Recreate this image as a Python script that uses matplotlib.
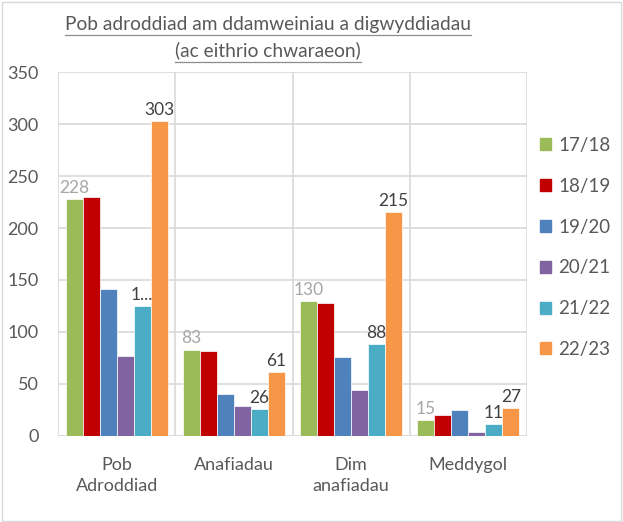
import numpy as np
import matplotlib
matplotlib.use("Agg")
import matplotlib.pyplot as plt
from matplotlib.patches import Rectangle
from matplotlib.lines import Line2D

plt.rcParams["font.family"] = ["Lato", "DejaVu Sans"]

categories = ["Pob\nAdroddiad", "Anafiadau", "Dim\nanafiadau", "Meddygol"]
years = ["17/18", "18/19", "19/20", "20/21", "21/22", "22/23"]
v1718 = [228, 83, 130, 15]
v1819 = [230, 82, 128, 20]
v1920 = [141, 40, 76, 25]
v2021 = [77, 29, 44, 4]
v2122 = [125, 26, 88, 11]
v2223 = [303, 61, 215, 27]
series = [v1718, v1819, v1920, v2021, v2122, v2223]
colors = ["#9BBB59", "#C00000", "#4F81BD", "#8064A2", "#4BACC6", "#F79646"]

# which series carry data labels, and their colour
label_color = {0: "#A6A6A6", 4: "#404040", 5: "#404040"}
label_text = {(4, 0): "1..."}

GRID = "#D9D9D9"
TXT = "#595959"

fig = plt.figure(figsize=(6.23, 5.22), dpi=100)
fig.patches.append(Rectangle((0.004, 0.002), 0.992, 0.994, transform=fig.transFigure,
                             fill=False, edgecolor=GRID, lw=1))
ax = fig.add_axes([0.0931, 0.1653, 0.7529, 0.6962])

n = len(years)
bw = 0.145
x = np.arange(len(categories))
for i, (vals, c) in enumerate(zip(series, colors)):
    pos = x - bw * (n - 1) / 2 + i * bw
    ax.bar(pos, vals, width=bw, color=c, edgecolor="white", linewidth=0.5, zorder=3)
    if i in label_color:
        for j, (p, v) in enumerate(zip(pos, vals)):
            ax.text(p, v + 3, label_text.get((i, j), str(v)), ha="center", va="bottom",
                    fontsize=12.5, color=label_color[i], zorder=4)

ax.set_xlim(-0.5, len(categories) - 0.5)
ax.set_ylim(0, 350)
ax.set_yticks(range(0, 351, 50))
ax.set_xticks(x)
ax.set_xticklabels(categories, fontsize=15.5, color=TXT, linespacing=1.45)
for b in np.arange(-0.5, len(categories), 1):
    ax.axvline(b, color=GRID, lw=1.2, zorder=1)
ax.grid(axis="y", color=GRID, lw=1.2, zorder=1)
for s in ax.spines.values():
    s.set_visible(False)
ax.axhline(0, color=GRID, lw=1.2, zorder=2)
ax.tick_params(axis="both", length=0, labelsize=13, colors=TXT)
ax.tick_params(axis="y", pad=14)
ax.tick_params(axis="x", pad=15)

handles = [Rectangle((0, 0), 1, 1, color=c) for c in colors]
leg = fig.legend(handles, years, loc="upper left", bbox_to_anchor=(0.84, 0.77),
                 frameon=False, fontsize=13.5, handlelength=0.6, handleheight=0.6,
                 handletextpad=0.35, labelspacing=1.27, labelcolor=TXT)

t1 = fig.text(0.43, 0.953, "Pob adroddiad am ddamweiniau a digwyddiadau",
              ha="center", va="center", fontsize=13.8, color=TXT)
t2 = fig.text(0.43, 0.903, "(ac eithrio chwaraeon)",
              ha="center", va="center", fontsize=13.8, color=TXT)
fig.canvas.draw()
r = fig.canvas.get_renderer()
for t in (t1, t2):
    bb = t.get_window_extent(r).transformed(fig.transFigure.inverted())
    yline = bb.y0 - 0.004
    fig.add_artist(Line2D([bb.x0, bb.x1], [yline, yline], transform=fig.transFigure,
                          color="#8C8C8C", lw=0.9))

fig.savefig("out.png", dpi=100)
